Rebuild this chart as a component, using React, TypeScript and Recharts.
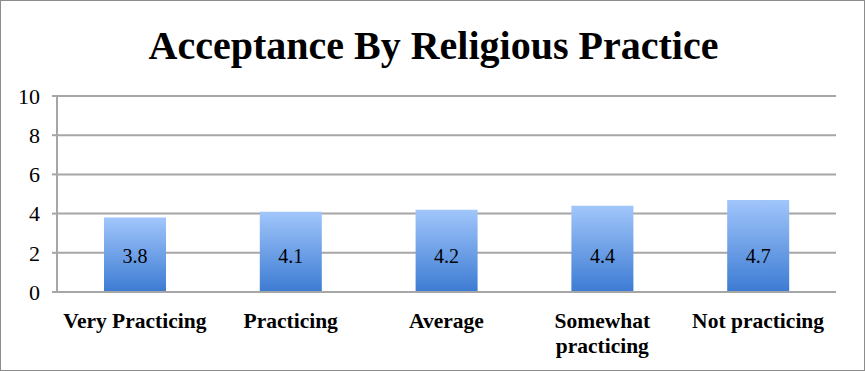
import React from "react";
import { BarChart, Bar, XAxis, YAxis, CartesianGrid, LabelList } from "recharts";

const categories = ["Very Practicing", "Practicing", "Average", "Somewhat practicing", "Not practicing"];
const values = [3.8, 4.1, 4.2, 4.4, 4.7];
const yTicks = [0, 2, 4, 6, 8, 10];
const boundaryTicks = [0, 1, 2, 3, 4, 5];

const data = categories.map((c, i) => ({ name: c, value: values[i], pos: i + 0.5 }));

const serif = "'Liberation Serif', 'DejaVu Serif', serif";

const CatTick = (props: any) => {
  const { x, y, payload } = props;
  const text: string = payload.value;
  let lines = [text];
  if (text.length > 16) {
    const idx = text.indexOf(" ");
    lines = [text.slice(0, idx), text.slice(idx + 1)];
  }
  return (
    <text x={x} y={y} textAnchor="middle" fontFamily={serif} fontWeight="bold" fontSize={21.5} fill="#000">
      {lines.map((l, i) => (
        <tspan key={i} x={x} dy={i === 0 ? 28 : 25}>
          {l}
        </tspan>
      ))}
    </text>
  );
};

const BarLabel = (props: any) => {
  const { x, y, width, height, value } = props;
  return (
    <text x={x + width / 2} y={y + height - 29} textAnchor="middle" fontFamily={serif} fontSize={20} fill="#000">
      {value}
    </text>
  );
};

export default function App() {
  return (
    <div
      style={{
        position: "absolute",
        left: 0,
        top: 0,
        width: 865,
        height: 371,
        boxSizing: "border-box",
        border: "1.5px solid #8c8c8c",
        background: "#fff",
      }}
    >
      <div
        style={{
          position: "absolute",
          left: 0,
          top: 22,
          width: 865,
          textAlign: "center",
          fontFamily: serif,
          fontWeight: "bold",
          fontSize: 40,
          lineHeight: "46px",
          color: "#000",
        }}
      >
        Acceptance By Religious Practice
      </div>
      <div style={{ position: "absolute", left: -1.5, top: -1.5 }}>
        <BarChart width={865} height={371} data={data} margin={{ top: 96, right: 29, bottom: 0, left: 0 }}>
          <defs>
            <linearGradient id="barGrad" x1="0" y1="0" x2="0" y2="1">
              <stop offset="0%" stopColor="#a1c6fb" />
              <stop offset="100%" stopColor="#3c7bd3" />
            </linearGradient>
          </defs>
          <CartesianGrid vertical={false} stroke="#a6a6a6" strokeWidth={2} />
          <XAxis
            dataKey="name"
            xAxisId="cat"
            height={79}
            tick={<CatTick />}
            tickLine={false}
            axisLine={{ stroke: "#a6a6a6", strokeWidth: 2 }}
            interval={0}
          />
          <XAxis
            xAxisId="b"
            type="number"
            domain={[0, 5]}
            ticks={boundaryTicks}
            dataKey="pos"
            height={0}
            tick={false}
            axisLine={false}
            tickLine={{ stroke: "#a6a6a6", strokeWidth: 2 }}
            tickSize={6}
          />
          <YAxis
            width={57}
            domain={[0, 10]}
            ticks={yTicks}
            interval={0}
            tick={{ fontFamily: serif, fontSize: 22, fill: "#000" }}
            tickLine={{ stroke: "#a6a6a6", strokeWidth: 2 }}
            axisLine={{ stroke: "#a6a6a6", strokeWidth: 2 }}
            tickSize={5}
            tickMargin={12}
          />
          <Bar dataKey="value" xAxisId="cat" fill="url(#barGrad)" barSize={62} isAnimationActive={false}>
            <LabelList dataKey="value" content={<BarLabel />} />
          </Bar>
        </BarChart>
      </div>
    </div>
  );
}
